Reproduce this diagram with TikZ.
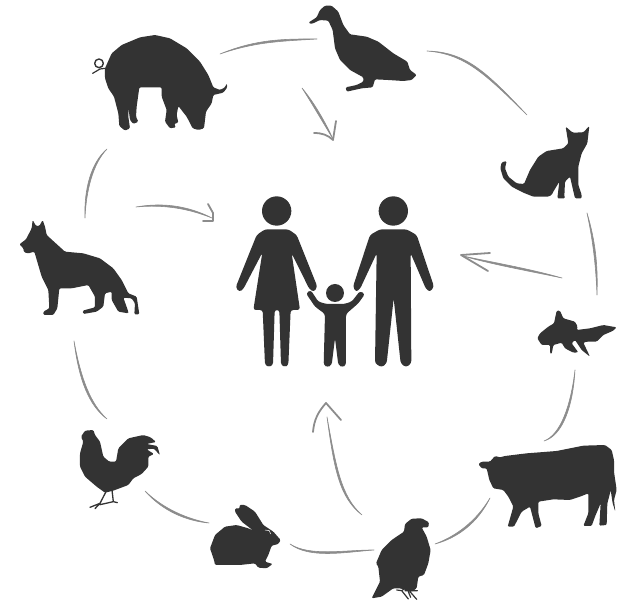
\documentclass[tikz,border=0pt]{standalone}
\definecolor{sil}{HTML}{333333}
\definecolor{stroke}{HTML}{8C8C8C}
\tikzset{
  sil/.style={fill=sil,rounded corners=1.2pt},
  person/.style={fill=sil,rounded corners=2.6pt},
  thin sil/.style={draw=sil,line cap=round,line join=round},
  zoomed/.style={shift={#1},scale=1/3},
  hand/.style={draw=stroke,line width=1.8pt,line cap=round,line join=round},
  tapered/.style={fill=stroke,draw=stroke,line width=.6pt,line cap=round,line join=round},
}
% tapered pencil stroke between two ends, with two control points
\newcommand\pencil[8]{%
  \pgfmathsetmacro\len{max(1,veclen(#7-#1,#8-#2))}%
  \pgfmathsetmacro\nx{-(#8-#2)/\len*1.15}%
  \pgfmathsetmacro\ny{(#7-#1)/\len*1.15}%
  \path[tapered] (#1,#2) .. controls (#3+\nx,#4+\ny) and (#5+\nx,#6+\ny) .. (#7,#8)
     .. controls (#5-\nx,#6-\ny) and (#3-\nx,#4-\ny) .. (#1,#2) -- cycle;}
\begin{document}
\begin{tikzpicture}[x=1pt,y=-1pt]
\useasboundingbox (0,0) rectangle (633,604);
% pig
\begin{scope}[zoomed={(0,0)}]
\fill[sil] (315,205)--(335,160)--(365,135)--(420,112)--(465,105)--(510,115)--(560,145)--(600,185)--(625,225)--(640,262)--(660,270)--(675,262)--(680,250)--(682,262)--(670,278)--(640,285)--(635,310)--(618,335)--(612,385)--(595,390)--(578,385)--(560,350)--(535,318)--(530,345)--(535,368)--(522,372)--(528,382)--(510,385)--(500,372)--(495,365)--(500,330)--(485,290)--(485,262)--(440,262)--(418,262)--(410,320)--(408,350)--(415,365)--(400,372)--(390,360)--(385,320)--(385,350)--(390,385)--(375,392)--(358,378)--(355,340)--(342,290)--(325,265)--(315,235)--cycle;
\draw[thin sil,line width=1.4pt] (297,190) circle (13);
\draw[thin sil,line width=1.2pt] (316,205)--(300,207)--(278,220);
\end{scope}
% duck and cat
\begin{scope}[zoomed={(300,0)}]
\fill[sil] (25,68)--(50,52)--(60,30)--(75,17)--(95,17)--(115,35)--(130,75)--(150,103)--(200,110)--(235,125)--(280,160)--(322,185)--(330,210)--(350,225)--(335,240)--(310,243)--(265,240)--(225,238)--(218,262)--(185,265)--(140,275)--(137,262)--(170,255)--(190,245)--(190,232)--(150,210)--(120,180)--(105,145)--(98,90)--(85,62)--(60,60)--(35,72)--cycle;
\fill[sil] (797,380)--(818,398)--(850,397)--(868,378)--(862,430)--(845,460)--(835,500)--(835,555)--(845,585)--(845,595)--(825,595)--(810,530)--(795,545)--(793,590)--(795,595)--(772,595)--(778,545)--(760,575)--(755,585)--(745,590)--(700,590)--(670,578)--(635,560)--(610,535)--(601,505)--(605,487)--(620,483)--(615,505)--(625,530)--(650,550)--(672,552)--(690,510)--(715,470)--(740,453)--(790,445)--(805,430)--cycle;
\end{scope}
% family
\begin{scope}[zoomed={(220,190)}]
\fill[sil] (170,63) circle (44);
\fill[sil] (520,63) circle (44);
\fill[sil] (345,309) circle (27);
\fill[person] (135,118)--(205,118)--(230,135)--(292,290)--(282,306)--(268,297)--(215,190)--(240,360)--(212,360)--(205,525)--(195,531)--(183,525)--(178,360)--(164,360)--(159,525)--(147,531)--(135,525)--(128,360)--(100,360)--(127,188)--(70,297)--(58,306)--(47,292)--(110,135)--cycle;
\fill[person] (480,118)--(560,118)--(590,135)--(642,290)--(630,306)--(618,297)--(572,190)--(574,520)--(558,532)--(542,520)--(521,325)--(500,520)--(485,532)--(465,520)--(470,190)--(420,297)--(408,306)--(399,290)--(450,135)--cycle;
\fill[person] (320,342)--(372,342)--(395,335)--(420,303)--(435,312)--(415,340)--(378,372)--(378,525)--(367,532)--(355,525)--(345,445)--(335,525)--(323,532)--(311,525)--(315,372)--(285,350)--(258,310)--(272,300)--(295,335)--cycle;
\end{scope}
% fish and cow
\begin{scope}[zoomed={(440,290)}]
\fill[sil] (292,145)--(300,130)--(325,110)--(342,100)--(350,62)--(360,62)--(370,85)--(405,95)--(413,110)--(410,120)--(450,115)--(490,105)--(530,112)--(520,122)--(490,135)--(470,155)--(440,155)--(430,158)--(450,200)--(425,180)--(405,150)--(395,160)--(415,187)--(400,188)--(375,175)--(365,158)--(340,165)--(335,192)--(330,190)--(330,165)--(305,165)--cycle;
\fill[sil] (115,522)--(125,515)--(150,515)--(165,498)--(180,502)--(195,498)--(260,490)--(350,483)--(430,467)--(495,465)--(515,480)--(522,510)--(522,545)--(530,600)--(522,630)--(526,665)--(518,640)--(512,600)--(510,610)--(502,640)--(500,705)--(478,707)--(482,640)--(465,680)--(455,708)--(430,708)--(445,670)--(445,610)--(420,620)--(390,630)--(340,628)--(295,635)--(295,670)--(305,708)--(287,715)--(270,650)--(245,665)--(222,710)--(203,710)--(220,650)--(205,620)--(190,600)--(160,595)--(148,570)--(140,535)--(125,535)--cycle;
\end{scope}
% eagle and rabbit
\begin{scope}[zoomed={(200,400)}]
\fill[sil] (612,395)--(615,372)--(635,356)--(665,355)--(687,367)--(685,382)--(665,382)--(680,410)--(692,450)--(685,490)--(672,525)--(655,530)--(650,565)--(635,575)--(600,565)--(580,565)--(545,590)--(515,595)--(540,545)--(535,500)--(528,490)--(545,450)--(575,420)--cycle;
\draw[thin sil,line width=1.2pt] (615,565)--(605,572)--(590,570) (605,572)--(625,597) (615,572)--(652,572) (630,575)--(650,598) (625,575)--(632,592);
\fill[sil] (30,445)--(45,405)--(75,380)--(110,375)--(145,385)--(160,392)--(125,365)--(105,335)--(105,325)--(120,325)--(118,315)--(135,315)--(165,335)--(190,375)--(220,395)--(242,420)--(235,432)--(215,437)--(205,465)--(195,485)--(218,492)--(200,505)--(175,503)--(165,490)--(120,495)--(45,495)--(42,480)--cycle;
\draw[white,line width=.5pt] (195,390)--(208,392)--(212,402);
\end{scope}
% dog and rooster
\begin{scope}[zoomed={(0,200)}]
\fill[sil] (58,133)--(78,118)--(95,85)--(98,60)--(108,78)--(118,78)--(128,60)--(135,80)--(140,105)--(195,155)--(250,160)--(300,175)--(340,205)--(365,240)--(385,280)--(410,290)--(418,343)--(403,343)--(405,310)--(395,295)--(370,293)--(385,335)--(385,340)--(355,335)--(335,300)--(335,275)--(315,280)--(310,320)--(290,335)--(250,342)--(248,332)--(285,322)--(285,290)--(265,255)--(215,265)--(178,265)--(172,325)--(160,345)--(130,345)--(130,335)--(148,325)--(145,270)--(125,230)--(103,155)--(85,160)--(72,157)--(70,145)--cycle;
\fill[sil] (243,710)--(255,692)--(280,690)--(285,705)--(300,725)--(310,770)--(328,785)--(348,785)--(355,745)--(385,715)--(430,705)--(452,712)--(468,726)--(440,732)--(472,738)--(480,766)--(462,746)--(440,748)--(462,762)--(445,770)--(445,800)--(425,822)--(400,835)--(385,855)--(340,872)--(315,878)--(290,860)--(255,830)--(240,800)--(240,760)--(250,725)--cycle;
\draw[thin sil,line width=1.3pt] (318,875)--(300,910)--(270,922) (300,910)--(285,926) (336,870)--(340,905)--(300,914) (340,905)--(352,908);
\end{scope}
% cycle strokes
\pencil{220}{54}{257}{40}{285}{40}{317}{39}
\pencil{427}{51}{465}{53}{485}{72}{527}{115}
\pencil{587}{213}{594}{240}{597}{265}{597}{295}
\pencil{575}{370}{572}{405}{562}{435}{544}{441}
\pencil{490}{498}{477}{522}{457}{537}{435}{544}
\pencil{374}{550}{345}{551}{310}{558}{290}{544}
\pencil{209}{523}{187}{520}{163}{510}{145}{491}
\pencil{107}{419}{90}{405}{80}{380}{74}{341}
\pencil{107}{149}{92}{163}{85}{190}{85}{218}
% arrows to the family
\pencil{302}{88}{313}{103}{324}{122}{333}{139}
\draw[hand] (314,133) .. controls (322,133) and (328,135) .. (333,140) -- (336,121);
\pencil{136}{207}{165}{203}{190}{208}{212}{218}
\draw[hand] (208,204) -- (213,213) -- (213,221) -- (203,221);
\pencil{562}{278}{530}{270}{495}{264}{463}{256}
\draw[hand] (490,253) -- (461,255) -- (488,271);
\pencil{362}{515}{340}{497}{335}{467}{327}{417}
\draw[hand] (313,432) .. controls (314,420) and (318,412) .. (326,403) -- (341,420);
\end{tikzpicture}
\end{document}
